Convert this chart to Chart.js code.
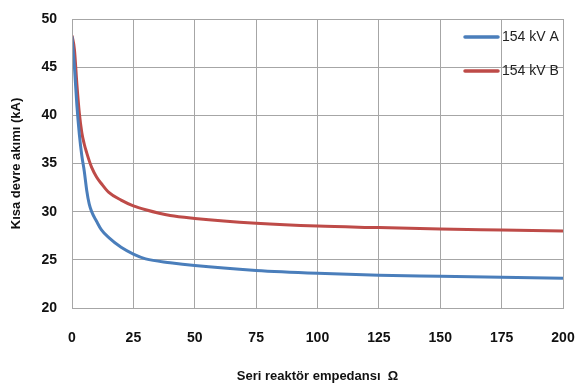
<!DOCTYPE html>
<html>
<head>
<meta charset="utf-8">
<script src="https://cdn.jsdelivr.net/npm/chart.js@4/dist/chart.umd.min.js"></script>
<style>
  html, body { margin: 0; padding: 0; background: #fff; }
  #wrap { width: 576px; height: 390px; }
</style>
</head>
<body>
<div id="wrap"><canvas id="chartCurrent"></canvas></div>
<script>
// series impedance (ohm) and short circuit current (kA)
var impedance = [0, 1, 2, 3, 4, 5, 6, 7, 8, 10, 12, 15, 20, 25, 30, 40, 50, 75, 100, 125, 150, 175, 200];
var currentA  = [48.2, 45, 41, 38, 35.8, 34.2, 32.2, 30.8, 30, 29, 28.1, 27.3, 26.3, 25.6, 25.1, 24.7, 24.4, 23.9, 23.6, 23.4, 23.3, 23.2, 23.1];
var currentB  = [48.3, 46.8, 43.2, 40.2, 38.2, 37, 36.1, 35.3, 34.6, 33.6, 32.9, 32, 31.2, 30.6, 30.2, 29.6, 29.3, 28.8, 28.5, 28.35, 28.2, 28.1, 28.0];
var seriesNames = ['154 kV A', '154 kV B'];
var xTicks = [0, 25, 50, 75, 100, 125, 150, 175, 200];
var yTicks = [20, 25, 30, 35, 40, 45, 50];

function toPoints(xs, ys){
  return xs.map(function(x, i){ return {x: x, y: ys[i]}; });
}

// legend drawn inside the plot area, top right
var innerLegend = {
  id: 'innerLegend',
  afterDatasetsDraw: function(chart){
    var ctx = chart.ctx;
    var area = chart.chartArea;
    ctx.save();
    chart.data.datasets.forEach(function(ds, i){
      var y = area.top + 18 + i * 34;
      var x1 = area.right - 98;
      ctx.strokeStyle = ds.borderColor;
      ctx.lineWidth = 3.5;
      ctx.lineCap = 'round';
      ctx.beginPath();
      ctx.moveTo(x1, y);
      ctx.lineTo(x1 + 33, y);
      ctx.stroke();
      ctx.fillStyle = '#222';
      ctx.font = '14px "Liberation Sans", sans-serif';
      ctx.textBaseline = 'middle';
      ctx.fillText(ds.label, x1 + 37, y);
    });
    ctx.restore();
  }
};

var ctx = document.getElementById('chartCurrent');
new Chart(ctx, {
  type: 'line',
  data: {
    datasets: [{
      label: seriesNames[0],
      data: toPoints(impedance, currentA),
      borderColor: '#4a7ebb',
      borderWidth: 3,
      pointRadius: 0,
      cubicInterpolationMode: 'monotone'
    }, {
      label: seriesNames[1],
      data: toPoints(impedance, currentB),
      borderColor: '#be4b48',
      borderWidth: 3,
      pointRadius: 0,
      cubicInterpolationMode: 'monotone'
    }]
  },
  options: {
    responsive: true,
    maintainAspectRatio: false,
    animation: false,
    layout: { padding: { top: 19, right: 13, left: 0, bottom: 0 } },
    plugins: {
      legend: { display: false },
      tooltip: { enabled: false }
    },
    scales: {
      x: {
        type: 'linear',
        min: 0,
        max: 200,
        afterBuildTicks: function(scale){ scale.ticks = xTicks.map(function(v){ return {value: v}; }); },
        afterFit: function(scale){
          scale.height = 82;
          scale.paddingLeft = 0;
          scale.paddingRight = 0;
        },
        grid: { color: '#a6a6a6', lineWidth: 1, drawTicks: false },
        border: { color: '#a6a6a6' },
        ticks: {
          padding: 22,
          color: '#111',
          font: { family: '"Liberation Sans", sans-serif', size: 14, weight: 'bold' },
          maxRotation: 0
        },
        title: {
          display: true,
          text: 'Seri reaktör empedansı  Ω',
          color: '#111',
          padding: { top: 6, bottom: 6 },
          font: { family: '"Liberation Sans", sans-serif', size: 13, weight: 'bold' }
        }
      },
      y: {
        min: 20,
        max: 50,
        afterBuildTicks: function(scale){ scale.ticks = yTicks.map(function(v){ return {value: v}; }); },
        afterFit: function(scale){
          scale.width = 72;
          scale.paddingTop = 0;
          scale.paddingBottom = 0;
        },
        grid: { color: '#a6a6a6', lineWidth: 1, drawTicks: false },
        border: { color: '#a6a6a6' },
        ticks: {
          padding: 15,
          color: '#111',
          font: { family: '"Liberation Sans", sans-serif', size: 14, weight: 'bold' }
        },
        title: {
          display: true,
          text: 'Kısa devre akımı (kA)',
          color: '#111',
          padding: { top: 9, bottom: 0 },
          font: { family: '"Liberation Sans", sans-serif', size: 13, weight: 'bold' }
        }
      }
    }
  },
  plugins: [innerLegend, {
    // plot area box, top and right edges
    id: 'plotBox',
    afterDraw: function(chart){
      var a = chart.chartArea, c = chart.ctx;
      c.save();
      c.strokeStyle = '#a6a6a6';
      c.lineWidth = 1;
      c.strokeRect(a.left + 0.5, a.top + 0.5, a.right - a.left, a.bottom - a.top);
      c.restore();
    }
  }]
});
</script>
</body>
</html>
